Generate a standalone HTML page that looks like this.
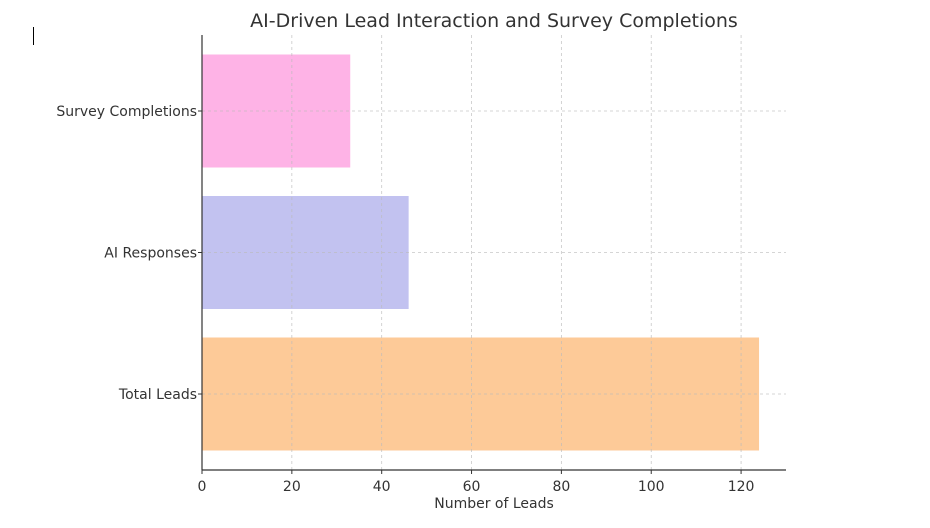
<!DOCTYPE html>
<html><head><meta charset="utf-8"><style>
body{margin:0;background:#fff;width:930px;height:523px;overflow:hidden}
svg text{font-family:"DejaVu Sans","Liberation Sans",sans-serif;fill:#333}
</style></head><body>
<svg id="chart" width="930" height="523">
<line x1="33.5" y1="27" x2="33.5" y2="45" stroke="#000" stroke-width="1"/>
<text x="494" y="27" text-anchor="middle" font-size="19">AI-Driven Lead Interaction and Survey Completions</text>
<g id="bars"></g><g id="grid"></g><g id="axes"></g>
<text x="494" y="508" text-anchor="middle" font-size="14">Number of Leads</text>
</svg>
<script>
const categories=["Total Leads","AI Responses","Survey Completions"];
const values=[124,46,33];
const colors=["#fdca98","#c2c2f0","#feb3e6"];
const xTicks=[0,20,40,60,80,100,120];
const NS="http://www.w3.org/2000/svg";
const x0=202,x1=786,xMax=130,yTop=35,yBot=470;
const xs=v=>x0+(v/xMax)*(x1-x0);
const bandStep=(yBot-yTop)/3.05;
const yc=i=>yBot-20-bandStep*0.5-i*bandStep*1.0;
function mk(t,a,p){const e=document.createElementNS(NS,t);for(const k in a)e.setAttribute(k,a[k]);p.appendChild(e);return e;}
const gB=document.getElementById('bars'),gG=document.getElementById('grid'),gA=document.getElementById('axes');
const centers=[394,253,111];
const yCat=i=>centers[0]+(centers[2]-centers[0])*i/(categories.length-1);
const bh=113;
categories.forEach((c,i)=>{
 const r=mk('rect',{x:x0,y:yCat(i)-bh/2,width:xs(values[i])-x0,height:bh,fill:colors[i]},gB);
 
 
 const g=mk('line',{x1:x0,x2:x1,y1:yCat(i),y2:yCat(i),stroke:'#bbb','stroke-width':0.8,'stroke-dasharray':'3,3',opacity:0.8},gG);
 
 
 const t=mk('text',{x:x0-5,y:yCat(i)+5,'text-anchor':'end','font-size':14},gA);
 t.textContent=c;
 
 
 const tk=mk('line',{x1:x0-4,x2:x0,y1:yCat(i),y2:yCat(i),stroke:'#333'},gA);
 
 
});
xTicks.forEach(v=>{
 const x=xs(v);
 const g=mk('line',{x1:x,x2:x,y1:yTop,y2:yBot,stroke:'#bbb','stroke-width':0.8,'stroke-dasharray':'3,3',opacity:0.8},gG);
 
 
 const tk=mk('line',{x1:x,x2:x,y1:yBot,y2:yBot+4,stroke:'#333'},gA);
 
 
 const t=mk('text',{x:x,y:yBot+21,'text-anchor':'middle','font-size':14},gA);
 t.textContent=v;
 
 
});
const la=mk('line',{x1:x0,x2:x0,y1:yTop,y2:yBot,stroke:'#333','stroke-width':1.2},gA);


const lb=mk('line',{x1:x0,x2:x1,y1:yBot,y2:yBot,stroke:'#333','stroke-width':1.2},gA);


</script>
</body></html>
